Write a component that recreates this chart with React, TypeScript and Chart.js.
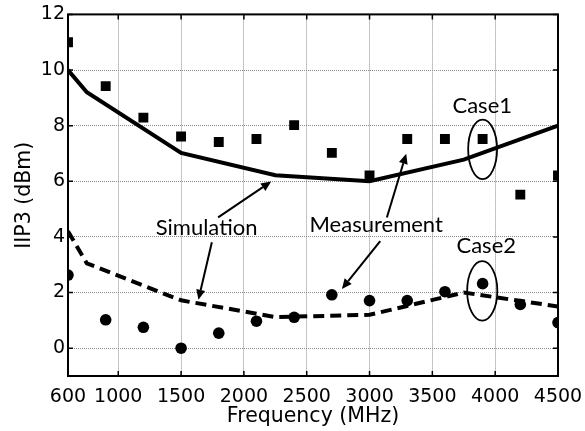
import React, { useEffect, useRef } from "react";
import { Chart, registerables } from "chart.js";

Chart.register(...registerables);

// ---- data ----
const freqMeas = [600, 900, 1200, 1500, 1800, 2100, 2400, 2700, 3000, 3300, 3600, 3900, 4200, 4500];
const case1Meas = [11.0, 9.42, 8.29, 7.61, 7.41, 7.52, 8.02, 7.02, 6.21, 7.52, 7.52, 7.52, 5.52, 6.21];
const case2Meas = [2.63, 1.02, 0.75, 0.0, 0.54, 0.97, 1.11, 1.92, 1.71, 1.71, 2.03, 2.32, 1.57, 0.92];
const freqSim = [600, 750, 1500, 2250, 3000, 3750, 4500];
const case1Sim = [10.0, 9.2, 7.02, 6.22, 6.0, 6.78, 8.0];
const case2Sim = [4.2, 3.05, 1.72, 1.12, 1.2, 2.0, 1.5];
const xTickValues = [600, 1000, 1500, 2000, 2500, 3000, 3500, 4000, 4500];
const yTickValues = [0, 2, 4, 6, 8, 10, 12];

// annotation texts (positions in data units)
const labelTexts = ["Simulation", "Measurement", "Case1", "Case2"];
const labelX = [1703, 3053, 3897, 3929];
const labelY = [4.31, 4.42, 8.71, 3.66];
// arrows: start -> end (data units)
const arrowX1 = [1795, 1745, 3138, 3085];
const arrowY1 = [4.7, 3.81, 4.7, 3.85];
const arrowX2 = [2217, 1638, 3292, 2780];
const arrowY2 = [5.99, 1.74, 6.99, 2.13];
// ellipses: centre and radii (data units)
const ellX = [3900, 3897];
const ellY = [7.15, 2.06];
const ellRX = [115, 120];
const ellRY = [1.07, 1.07];

const toXY = (xs: number[], ys: number[]) => xs.map((x, i) => ({ x, y: ys[i] }));

const frameFont = "'DejaVu Sans', sans-serif";
const noteFont = "Lato, 'Open Sans', sans-serif";

const decorPlugin = {
  id: "decor",
  afterDraw(chart: any) {
    const { ctx, chartArea, scales } = chart;
    const xs = scales.x;
    const ys = scales.y;
    const px = (v: number) => xs.getPixelForValue(v);
    const py = (v: number) => ys.getPixelForValue(v);
    const { left, right, top, bottom } = chartArea;
    ctx.save();
    // inward tick marks
    ctx.strokeStyle = "#000";
    ctx.lineWidth = 1.5;
    const tl = 5;
    ctx.beginPath();
    xTickValues.forEach((v) => {
      const x = px(v);
      ctx.moveTo(x, bottom);
      ctx.lineTo(x, bottom - tl);
      ctx.moveTo(x, top);
      ctx.lineTo(x, top + tl);
    });
    yTickValues.forEach((v) => {
      const y = py(v);
      ctx.moveTo(left, y);
      ctx.lineTo(left + tl, y);
      ctx.moveTo(right, y);
      ctx.lineTo(right - tl, y);
    });
    ctx.stroke();
    // box
    ctx.lineWidth = 2;
    ctx.strokeRect(left, top, right - left, bottom - top);

    // ellipses
    ctx.lineWidth = 1.8;
    ellX.forEach((cx, i) => {
      const x = px(cx);
      const y = py(ellY[i]);
      const rx = Math.abs(px(cx + ellRX[i]) - x);
      const ry = Math.abs(py(ellY[i] + ellRY[i]) - y);
      ctx.beginPath();
      ctx.ellipse(x, y, rx, ry, 0, 0, Math.PI * 2);
      ctx.stroke();
    });

    // arrows
    arrowX1.forEach((ax, i) => {
      const x1 = px(ax);
      const y1 = py(arrowY1[i]);
      const x2 = px(arrowX2[i]);
      const y2 = py(arrowY2[i]);
      const ang = Math.atan2(y2 - y1, x2 - x1);
      const hl = 10;
      const hw = 4.5;
      const bx = x2 - hl * Math.cos(ang);
      const by = y2 - hl * Math.sin(ang);
      ctx.lineWidth = 2;
      ctx.beginPath();
      ctx.moveTo(x1, y1);
      ctx.lineTo(bx, by);
      ctx.stroke();
      ctx.fillStyle = "#000";
      ctx.beginPath();
      ctx.moveTo(x2, y2);
      ctx.lineTo(bx + hw * Math.sin(ang), by - hw * Math.cos(ang));
      ctx.lineTo(bx - hw * Math.sin(ang), by + hw * Math.cos(ang));
      ctx.closePath();
      ctx.fill();
    });

    // texts
    ctx.fillStyle = "#000";
    ctx.font = `22px ${noteFont}`;
    ctx.textAlign = "center";
    ctx.textBaseline = "middle";
    labelTexts.forEach((t, i) => {
      ctx.fillText(t, px(labelX[i]), py(labelY[i]));
    });
    ctx.restore();
  },
};

export default function App() {
  const ref = useRef<HTMLCanvasElement | null>(null);
  useEffect(() => {
    if (!ref.current) return;
    const chart = new Chart(ref.current, {
      type: "line",
      data: {
        datasets: [
          {
            label: "Case1 simulation",
            data: toXY(freqSim, case1Sim),
            borderColor: "#000",
            borderWidth: 4,
            pointRadius: 0,
            fill: false,
            tension: 0,
          },
          {
            label: "Case2 simulation",
            data: toXY(freqSim, case2Sim),
            borderColor: "#000",
            borderWidth: 4,
            borderDash: [11, 6],
            pointRadius: 0,
            fill: false,
            tension: 0,
          },
          {
            label: "Case1 measurement",
            data: toXY(freqMeas, case1Meas),
            showLine: false,
            pointStyle: "rect",
            pointRadius: 7,
            pointBackgroundColor: "#000",
            pointBorderColor: "#000",
            pointBorderWidth: 0,
          },
          {
            label: "Case2 measurement",
            data: toXY(freqMeas, case2Meas),
            showLine: false,
            pointStyle: "circle",
            pointRadius: 5.8,
            pointBackgroundColor: "#000",
            pointBorderColor: "#000",
            pointBorderWidth: 0,
          },
        ],
      },
      options: {
        animation: false,
        responsive: false,
        maintainAspectRatio: false,
        layout: { padding: { left: 0, top: 14, right: 27, bottom: 0 } },
        plugins: {
          legend: { display: false },
          tooltip: { enabled: false },
        },
        scales: {
          x: {
            type: "linear",
            min: 600,
            max: 4500,
            afterBuildTicks: (s: any) => {
              s.ticks = xTickValues.map((v) => ({ value: v }));
            },
            afterFit: (s: any) => {
              s.height = 55;
              s.paddingLeft = 0;
              s.paddingRight = 0;
            },
            grid: {
              color: "#8a8a8a",
              lineWidth: 1,
              drawTicks: false,
            },
            border: { display: false, dash: [1, 1] },
            ticks: {
              color: "#000",
              padding: 10,
              maxRotation: 0,
              autoSkip: false,
              font: { family: frameFont, size: 19 },
              callback: (v: any) => String(v),
            },
            title: {
              display: true,
              text: "Frequency (MHz)",
              color: "#000",
              font: { family: frameFont, size: 20.5 },
              padding: { top: 0, bottom: 2 },
            },
          },
          y: {
            type: "linear",
            min: -1,
            max: 12,
            afterBuildTicks: (s: any) => {
              s.ticks = yTickValues.map((v) => ({ value: v }));
            },
            afterFit: (s: any) => {
              s.width = 68;
            },
            grid: {
              color: "#8a8a8a",
              lineWidth: 1,
              drawTicks: false,
            },
            border: { display: false, dash: [1, 1] },
            ticks: {
              color: "#000",
              padding: 3,
              font: { family: frameFont, size: 19 },
              callback: (v: any) => String(v),
            },
            title: {
              display: true,
              text: "IIP3 (dBm)",
              color: "#000",
              font: { family: frameFont, size: 20.5 },
              padding: { top: 12, bottom: 0 },
            },
          },
        },
      },
      plugins: [decorPlugin],
    });
    return () => chart.destroy();
  }, []);
  return (
    <div style={{ position: "fixed", left: 0, top: 0, width: 585, height: 431, background: "#fff" }}>
      <canvas ref={ref} width={585} height={431} style={{ display: "block" }} />
    </div>
  );
}
